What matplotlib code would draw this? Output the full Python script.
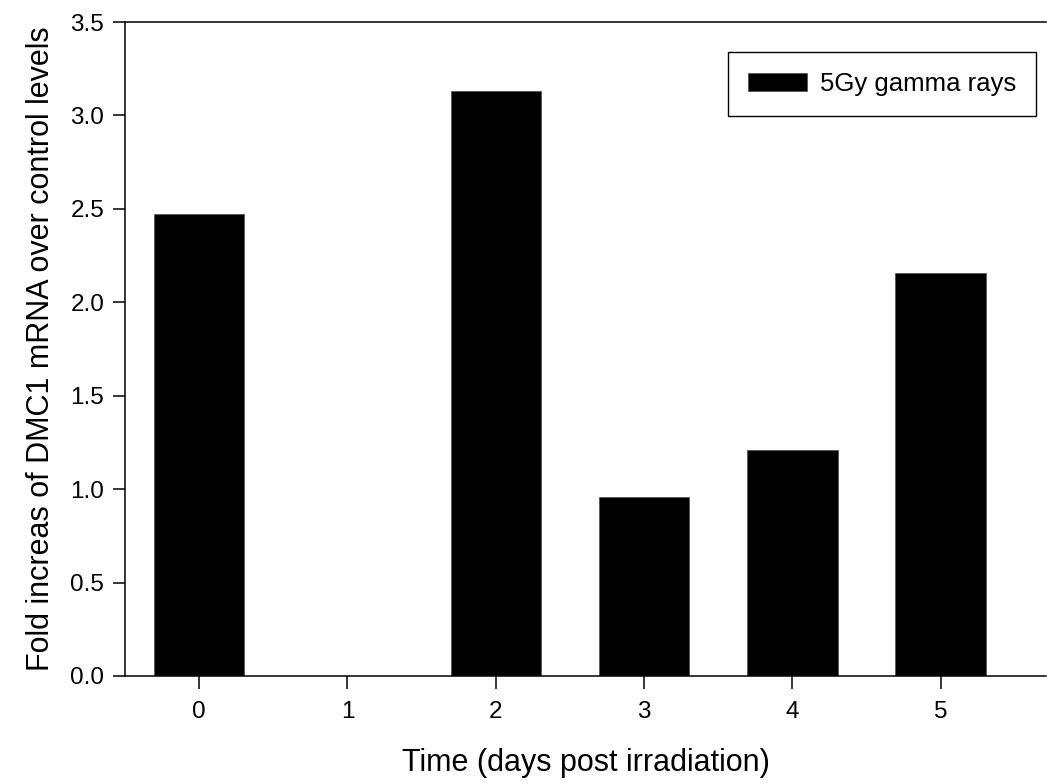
import matplotlib
matplotlib.use('Agg')
import matplotlib.pyplot as plt
import numpy as np

# data
days = [0, 1, 2, 3, 4, 5]
fold = [2.47, 0.0, 3.13, 0.96, 1.21, 2.155]
series_name = '5Gy gamma rays'

plt.rcParams['font.family'] = ['Liberation Sans', 'DejaVu Sans']

fig = plt.figure(figsize=(10.47, 7.84), dpi=100)
ax = fig.add_axes([125/1047, 1-676/784, (1046-125)/1047, (676-22)/784])

ax.bar(days, fold, width=0.61, color='black', edgecolor='#555555', linewidth=0.6, label=series_name)

ax.set_xlim(-0.5, 5.71)
ax.set_ylim(0, 3.5)
ax.set_xticks(days)
ax.set_yticks(np.arange(0, 3.51, 0.5))
ax.set_yticklabels(['%.1f' % v for v in np.arange(0, 3.51, 0.5)])
ax.tick_params(direction='out', length=9, width=1.1, labelsize=17.5, pad=6)
ax.tick_params(axis='x', pad=9)
for s in ['left', 'bottom', 'top']:
    ax.spines[s].set_linewidth(1.1)
ax.spines['right'].set_visible(False)

ax.set_xlabel('Time (days post irradiation)', fontsize=22, labelpad=18)
ax.set_ylabel('Fold increas of DMC1 mRNA over control levels', fontsize=22, labelpad=10.5)

leg = ax.legend(loc='upper right', bbox_to_anchor=(0.989, 0.954), fontsize=18.5,
                fancybox=False, edgecolor='black', framealpha=1,
                handlelength=2.3, handleheight=0.72, borderpad=0.78, handletextpad=0.5,
                borderaxespad=0)
leg.get_frame().set_linewidth(1.0)

fig.savefig('out.png', dpi=100)
